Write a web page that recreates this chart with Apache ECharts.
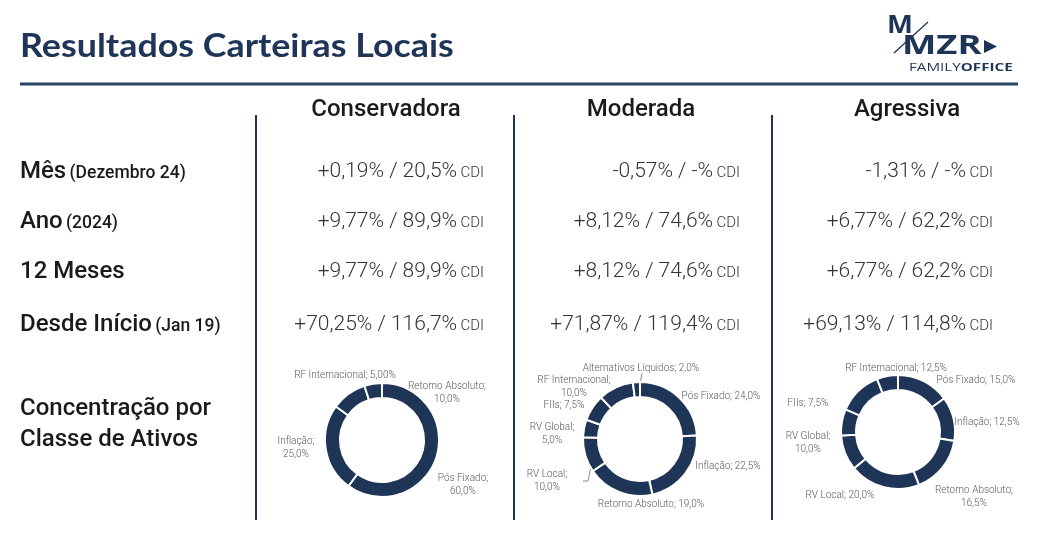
<!DOCTYPE html>
<html lang="pt-BR">
<head>
  <meta charset="UTF-8">
  <title>Resultados Carteiras Locais</title>
  <script src="https://cdn.jsdelivr.net/npm/echarts@6/dist/echarts.min.js"></script>
  <style>
    html, body { margin: 0; padding: 0; background: #ffffff; }
    #chart { width: 1043px; height: 533px; }
  </style>
</head>
<body>
  <div id="chart"></div>
  <script>
    // --- dados ---
    const carteiras = ['Conservadora', 'Moderada', 'Agressiva'];
    const linhas = ['Mês', 'Ano', '12 Meses', 'Desde Início'];
    const notas = ['(Dezembro 24)', '(2024)', '', '(Jan 19)'];

    const retornoMes = ['+0,19%', '-0,57%', '-1,31%'];
    const cdiMes = ['20,5%', '-%', '-%'];
    const retornoAno = ['+9,77%', '+8,12%', '+6,77%'];
    const cdiAno = ['89,9%', '74,6%', '62,2%'];
    const retorno12m = ['+9,77%', '+8,12%', '+6,77%'];
    const cdi12m = ['89,9%', '74,6%', '62,2%'];
    const retornoInicio = ['+70,25%', '+71,87%', '+69,13%'];
    const cdiInicio = ['116,7%', '119,4%', '114,8%'];

    const classesConservadora = ['Pós Fixado', 'Inflação', 'Retorno Absoluto', 'RF Internacional'];
    const pesosConservadora = [60, 25, 10, 5];
    const rotulosConservadora = ['Pós Fixado;\n60,0%', 'Inflação;\n25,0%', 'Retorno Absoluto;\n10,0%', 'RF Internacional; 5,00%'];

    const classesModerada = ['Pós Fixado', 'Inflação', 'Retorno Absoluto', 'RV Local', 'RV Global', 'FIIs', 'RF Internacional', 'Alternativos Líquidos'];
    const pesosModerada = [24, 22.5, 19, 10, 5, 7.5, 10, 2];
    const rotulosModerada = ['Pós Fixado; 24,0%', 'Inflação; 22,5%', 'Retorno Absoluto; 19,0%', 'RV Local;\n10,0%', 'RV Global;\n5,0%', 'FIIs; 7,5%', 'RF Internacional;\n10,0%', 'Alternativos Líquidos; 2,0%'];

    const classesAgressiva = ['Pós Fixado', 'Inflação', 'Retorno Absoluto', 'RV Local', 'RV Global', 'FIIs', 'RF Internacional', 'Alternativos Líquidos'];
    const pesosAgressiva = [15, 12.5, 16.5, 20, 10, 7.5, 12.5, 6];
    const rotulosAgressiva = ['Pós Fixado; 15,0%', 'Inflação; 12,5%', 'Retorno Absoluto;\n16,5%', 'RV Local; 20,0%', 'RV Global;\n10,0%', 'FIIs; 7,5%', 'RF Internacional; 12,5%', ''];

    // posição dos rótulos (deslocamento a partir do centro do anel, como no Excel)
    const posRotConservadora = [[81, 45], [-86, 8], [65, -47], [-37, -65]];
    const posRotModerada = [[81, -43], [88, 27], [11, 65], [-93, 42], [-88, -5], [-76, -34], [-66, -52], [1, -71]];
    const posRotAgressiva = [[78, -52], [89, -10], [76, 65], [-58, 63], [-90, 11], [-90, -29], [-2, -64], [0, 0]];
    // linhas de chamada (somente algumas fatias)
    const guiasConservadora = [];
    const guiasModerada = [null, null, null, [[-57, 42], [-52, 42], [-46, 13]], null, null, null, [[2, -66], [0, -54]]];
    const guiasAgressiva = [null, null, null, null, [[-54, 10], [-50, 9], [-46, 13]]];

    const navy = '#1f3557';
    const colX = [386, 641, 907];
    const valRight = [484, 740, 993];
    const rowY = [172, 222, 272, 325];

    const chart = echarts.init(document.getElementById('chart'));
    const graphic = [];

    // titulo + logo
    graphic.push({ type: 'text', x: 20, y: 47, scaleX: 1.12, style: { text: 'Resultados Carteiras Locais', font: 'bold 32px Lato', fill: navy, verticalAlign: 'middle' } });
    graphic.push({ type: 'line', shape: { x1: 20, y1: 84, x2: 1018, y2: 84 }, style: { stroke: '#2c4668', lineWidth: 3 } });
    graphic.push({ type: 'text', x: 887, y: 26, scaleX: 1.1, style: { text: 'M', font: 'bold 25px "Open Sans"', fill: navy, verticalAlign: 'middle' } });
    graphic.push({ type: 'line', shape: { x1: 894, y1: 53, x2: 928, y2: 22 }, style: { stroke: navy, lineWidth: 1.3 } });
    graphic.push({ type: 'text', x: 902, y: 46, scaleX: 1.35, style: { text: 'MZR', font: 'bold 27px "Open Sans"', fill: navy, verticalAlign: 'middle' } });
    graphic.push({ type: 'polygon', shape: { points: [[984, 40], [984, 53], [997, 46.5]] }, style: { fill: navy } });
    graphic.push({ type: 'text', x: 909, y: 68, scaleX: 1.38, style: {
      text: '{a|FAMILY}{b|OFFICE}', verticalAlign: 'middle',
      rich: { a: { font: '11px "Open Sans"', fill: navy }, b: { font: 'bold 11px "Open Sans"', fill: navy } }
    } });

    // cabeçalhos e divisórias
    carteiras.forEach((c, i) => {
      graphic.push({ type: 'text', x: colX[i], y: 110, style: { text: c, font: '500 24px Roboto', fill: '#1a1a1a', align: 'center', verticalAlign: 'middle' } });
    });
    [256, 514, 772].forEach(x => {
      graphic.push({ type: 'line', shape: { x1: x, y1: 115, x2: x, y2: 520 }, style: { stroke: navy, lineWidth: 2 } });
    });

    // linhas de retorno
    linhas.forEach((l, r) => {
      graphic.push({ type: 'text', x: 20, y: rowY[r], style: {
        text: '{a|' + l + '}' + (notas[r] ? ' {b|' + notas[r] + '}' : ''), verticalAlign: 'middle',
        rich: { a: { font: '500 24px Roboto', fill: '#1a1a1a' }, b: { font: '500 17.5px Roboto', fill: '#1a1a1a', padding: [4, 0, 0, 0] } }
      } });
    });
    const valores = [[retornoMes, cdiMes], [retornoAno, cdiAno], [retorno12m, cdi12m], [retornoInicio, cdiInicio]];
    valores.forEach((par, r) => {
      carteiras.forEach((c, i) => {
        graphic.push({ type: 'text', x: valRight[i], y: rowY[r], style: {
          text: '{v|' + par[0][i] + ' / ' + par[1][i] + '} {c|CDI}', align: 'right', verticalAlign: 'middle',
          rich: { v: { font: '300 21px Roboto', fill: '#333333' }, c: { font: '300 15px Roboto', fill: '#333333', padding: [3, 0, 0, 0] } }
        } });
      });
    });
    graphic.push({ type: 'text', x: 20, y: 409, style: { text: 'Concentração por', font: '500 24px Roboto', fill: '#1a1a1a', verticalAlign: 'middle' } });
    graphic.push({ type: 'text', x: 20, y: 440, style: { text: 'Classe de Ativos', font: '500 24px Roboto', fill: '#1a1a1a', verticalAlign: 'middle' } });

    function donut(nomes, pesos, rotulos, posRot, guias, centro) {
      return {
        type: 'pie',
        center: centro,
        radius: [42, 57],
        startAngle: 90,
        itemStyle: { color: navy, borderColor: '#ffffff', borderWidth: 2 },
        label: {
          show: true, position: 'outside', color: '#595959', fontFamily: 'Roboto', fontWeight: 300, fontSize: 10, lineHeight: 12.5,
          align: 'center', overflow: 'none',
          formatter: p => rotulos[p.dataIndex]
        },
        labelLine: { show: false, lineStyle: { color: '#8c8c8c', width: 1 } },
        labelLayout: p => {
          const out = {
            x: centro[0] + posRot[p.dataIndex][0],
            y: centro[1] + posRot[p.dataIndex][1],
            align: 'center',
            verticalAlign: 'middle'
          };
          const g = guias[p.dataIndex];
          if (g) out.labelLinePoints = g.map(q => [centro[0] + q[0], centro[1] + q[1]]);
          return out;
        },
        emphasis: { disabled: true },
        data: nomes.map((n, i) => ({ name: n, value: pesos[i], labelLine: { show: !!guias[i] } }))
      };
    }

    chart.setOption({
      animation: false,
      graphic: graphic,
      series: [
        donut(classesConservadora, pesosConservadora, rotulosConservadora, posRotConservadora, guiasConservadora, [382, 440]),
        donut(classesModerada, pesosModerada, rotulosModerada, posRotModerada, guiasModerada, [640, 439]),
        donut(classesAgressiva, pesosAgressiva, rotulosAgressiva, posRotAgressiva, guiasAgressiva, [898, 432])
      ]
    });
  </script>
</body>
</html>
